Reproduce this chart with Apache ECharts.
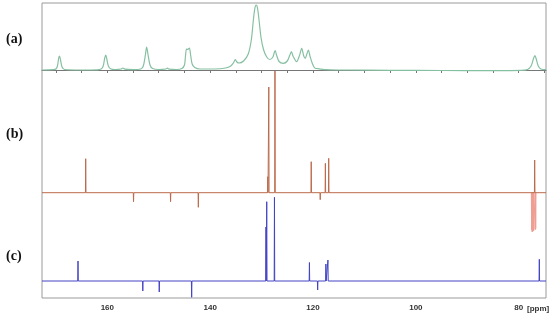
<!DOCTYPE html>
<html>
<head>
<meta charset="utf-8">
<script src="https://cdn.jsdelivr.net/npm/echarts@6/dist/echarts.min.js"></script>
<style>
html, body { margin: 0; padding: 0; background: #fff; }
#chart { width: 550px; height: 317px; }
</style>
</head>
<body>
<div id="chart"></div>
<script>
// chemical shift range shown (ppm, axis reversed)
const ppmMin = 74.7
const ppmMax = 172.7
const tickValues = [75, 80, 85, 90, 95, 100, 105, 110, 115, 120, 125, 130, 135, 140, 145, 150, 155, 160, 165, 170]
const tickLabels = [80, 100, 120, 140, 160]

// (a) broad spectrum, [ppm, intensity]
const traceA = [
  [172.7, 0], [170.5, 0.3], [170.0, 1], [169.7, 4], [169.45, 12], [169.3, 14], [169.1, 10], [168.8, 3], [168.3, 0.5],
  [165.0, 0], [162.0, 0.2], [161.2, 1], [160.8, 4], [160.5, 12], [160.3, 15], [160.1, 11], [159.8, 4], [159.3, 1],
  [158.5, 0.5], [157.3, 1], [157.0, 2], [156.6, 0.8], [155.0, 0.3], [153.5, 1], [153.0, 4], [152.6, 15], [152.35, 23],
  [152.1, 16], [151.7, 5], [151.2, 1.5], [150.0, 0.5], [148.6, 1], [148.3, 1.8], [148.0, 0.8], [146.5, 0.5],
  [145.5, 1.5], [145.0, 5], [144.8, 14], [144.6, 21], [144.35, 20.5], [144.05, 22], [143.8, 15], [143.5, 6],
  [143.0, 2.5], [142.0, 1], [139.0, 1], [137.0, 2], [136.0, 4], [135.5, 7], [135.1, 10.5], [134.8, 8], [134.4, 7],
  [133.5, 9], [132.6, 16], [132.0, 30], [131.6, 50], [131.3, 62], [131.05, 65], [130.8, 62], [130.5, 50],
  [130.1, 32], [129.6, 20], [129.0, 13], [128.4, 10.5], [127.8, 13], [127.5, 18], [127.35, 19.3], [127.1, 15],
  [126.6, 8.5], [125.8, 6.7], [125.0, 9], [124.5, 15], [124.2, 18.3], [123.9, 14], [123.2, 8.3], [122.6, 15],
  [122.2, 21.7], [121.8, 14], [121.5, 11.7], [121.2, 16], [120.9, 20], [120.6, 14], [120.1, 6], [119.6, 1.7],
  [118.8, 1.2], [117.5, 0.3], [115.0, 0], [105.0, -0.3], [95.0, -0.5], [85.0, -0.6], [79.5, -0.4], [78.3, 0.5],
  [77.6, 4], [77.1, 12], [76.85, 14.5], [76.6, 11], [76.2, 4], [75.7, 1], [74.7, 0.3]
]

// (b) sharp lines, [ppm, intensity]
const peaksB = [
  [164.2, 34], [154.9, -9], [147.7, -9], [142.3, -14.6], [128.8, 16], [128.6, 105.7], [127.4, 121.7],
  [120.35, 31], [118.6, -7], [117.6, 29.4], [116.95, 34.4], [76.9, 32.7]
]
// (b) solvent band, drawn lighter
const solventB = [[77.5, -37], [77.4, -39], [77.3, -39], [77.2, -38], [77.1, -38], [76.8, -37], [76.7, -36]]

// (c) sharp lines, [ppm, intensity]
const peaksC = [
  [165.7, 20], [153.1, -10], [149.9, -11], [143.6, -16.3], [129.15, 54], [129.0, 79.3], [127.5, 83.7],
  [120.7, 18.5], [119.1, -9], [117.5, 17], [117.1, 21], [76.0, 21.7]
]

function sticks(peaks, withEnds) {
  const pts = withEnds ? [[ppmMax, 0]] : []
  peaks.slice().sort((a, b) => b[0] - a[0]).forEach(p => {
    pts.push([p[0] + 0.05, 0], [p[0], p[1]], [p[0] - 0.05, 0])
  })
  if (withEnds) pts.push([ppmMin, 0])
  return pts
}

const chart = echarts.init(document.getElementById('chart'))

const hiddenY = (min, max) => ({ type: 'value', min: min, max: max, show: false })

chart.setOption({
  animation: false,
  grid: {
    left: 42,
    right: 4,
    top: 3,
    bottom: 19,
    show: true,
    borderColor: '#9a9a9a',
    borderWidth: 1
  },
  xAxis: {
    type: 'value',
    inverse: true,
    min: ppmMin,
    max: ppmMax,
    splitLine: { show: false },
    axisLine: { lineStyle: { color: '#777', width: 1 } },
    axisTick: {
      customValues: tickValues,
      length: 3,
      lineStyle: { color: '#777' }
    },
    axisLabel: {
      customValues: tickLabels,
      margin: 6,
      fontSize: 8,
      fontWeight: 'bold',
      fontFamily: 'Liberation Sans, Arial',
      color: '#333'
    }
  },
  yAxis: [
    hiddenY(-228, 67),
    hiddenY(-105.3, 189.7),
    hiddenY(-17, 278)
  ],
  graphic: [
    { type: 'text', left: 6, top: 32, style: { text: '(a)', font: 'bold 14px "Liberation Serif", serif', fill: '#111' } },
    { type: 'text', left: 6, top: 127, style: { text: '(b)', font: 'bold 14px "Liberation Serif", serif', fill: '#111' } },
    { type: 'text', left: 6, top: 249, style: { text: '(c)', font: 'bold 14px "Liberation Serif", serif', fill: '#111' } },
    { type: 'text', left: 527, top: 305, style: { text: '[ppm]', font: 'bold 8px "Liberation Sans", Arial', fill: '#333' } }
  ],
  series: [
    {
      type: 'line',
      yAxisIndex: 0,
      data: traceA,
      smooth: 0.3,
      showSymbol: false,
      lineStyle: { color: '#86c0a2', width: 1.2 }
    },
    {
      type: 'line',
      yAxisIndex: 1,
      data: sticks(solventB, false),
      showSymbol: false,
      lineStyle: { color: '#ee9e92', width: 1 }
    },
    {
      type: 'line',
      yAxisIndex: 1,
      data: sticks(peaksB, true),
      showSymbol: false,
      lineStyle: { color: '#bc6a4c', width: 1 }
    },
    {
      type: 'line',
      yAxisIndex: 2,
      data: sticks(peaksC, true),
      showSymbol: false,
      lineStyle: { color: '#4444c4', width: 1 }
    }
  ]
})
</script>
</body>
</html>
